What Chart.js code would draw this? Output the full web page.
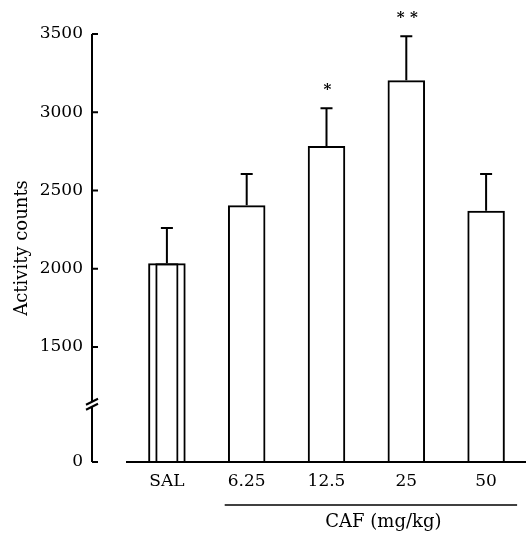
<!DOCTYPE html>
<html>
<head>
<meta charset="utf-8">
<script src="https://cdn.jsdelivr.net/npm/chart.js@4"></script>
<style>
  html, body { margin: 0; padding: 0; background: #fff; }
  #wrap { position: relative; width: 526px; height: 533px; }
</style>
</head>
<body>
<div id="wrap"><canvas id="chart"></canvas></div>
<script>
// data
const categories = ['SAL', '6.25', '12.5', '25', '50'];
const meanCounts = [2035, 2405, 2785, 3205, 2370];
const errorTops = [2260, 2605, 3025, 3485, 2605];
const significance = ['', '', '*', '**', ''];
const yTicks = [1500, 2000, 2500, 3000, 3500];
const groupLabel = 'CAF (mg/kg)';

// axis is broken between 0 and 1500; the "0" sits at this axis value
const BREAK_ZERO = 765;
const Y_MAX = 3500;

const FONT = '"DejaVu Serif", "Liberation Serif", serif';
const AXIS_X = 92;

const extrasPlugin = {
    id: 'extras',
    afterDatasetsDraw(chart) {
        const { ctx, scales: { x, y } } = chart;
        ctx.save();
        ctx.strokeStyle = '#000';
        ctx.fillStyle = '#000';
        ctx.lineWidth = 2;

        // error bars (upper only)
        errorTops.forEach((top, i) => {
            const cx = x.getPixelForValue(i);
            const y0 = y.getPixelForValue(meanCounts[i]);
            const y1 = y.getPixelForValue(top);
            ctx.beginPath();
            ctx.moveTo(cx, y0);
            ctx.lineTo(cx, y1);
            ctx.moveTo(cx - 6, y1);
            ctx.lineTo(cx + 6, y1);
            ctx.stroke();
        });

        // significance stars
        ctx.font = 'bold 15px ' + FONT;
        ctx.textAlign = 'center';
        ctx.textBaseline = 'middle';
        significance.forEach((s, i) => {
            if (!s) return;
            const cx = x.getPixelForValue(i) + 1;
            ctx.fillText(s.split('').join(' '), cx, y.getPixelForValue(errorTops[i]) - 18);
        });

        // detached y axis line with inward ticks
        const top = y.getPixelForValue(Y_MAX);
        const bottom = y.getPixelForValue(BREAK_ZERO);
        ctx.beginPath();
        ctx.moveTo(AXIS_X, top);
        ctx.lineTo(AXIS_X, bottom);
        [BREAK_ZERO, ...yTicks].forEach(v => {
            const py = y.getPixelForValue(v);
            ctx.moveTo(AXIS_X, py);
            ctx.lineTo(AXIS_X + 6, py);
        });
        ctx.stroke();

        // break marks
        const by = y.getPixelForValue(1150);
        ctx.fillStyle = '#fff';
        ctx.beginPath();
        ctx.moveTo(AXIS_X - 6, by + 3);
        ctx.lineTo(AXIS_X + 6, by - 3);
        ctx.lineTo(AXIS_X + 6, by + 2);
        ctx.lineTo(AXIS_X - 6, by + 8);
        ctx.closePath();
        ctx.fill();
        ctx.beginPath();
        ctx.moveTo(AXIS_X - 6, by + 3);
        ctx.lineTo(AXIS_X + 6, by - 3);
        ctx.moveTo(AXIS_X - 6, by + 8);
        ctx.lineTo(AXIS_X + 6, by + 2);
        ctx.stroke();

        // group line and label under the CAF doses
        const gx0 = x.getPixelForValue(1) - 22;
        const gx1 = x.getPixelForValue(4) + 31;
        const gy = 505;
        ctx.lineWidth = 1.5;
        ctx.beginPath();
        ctx.moveTo(gx0, gy);
        ctx.lineTo(gx1, gy);
        ctx.stroke();
        ctx.fillStyle = '#000';
        ctx.font = '18px ' + FONT;
        ctx.textBaseline = 'middle';
        ctx.fillText(groupLabel, (x.getPixelForValue(2) + x.getPixelForValue(3)) / 2 + 17, 522);

        ctx.restore();
    }
};

new Chart(document.getElementById('chart'), {
    type: 'bar',
    data: {
        labels: categories,
        datasets: [
            {
                data: meanCounts,
                backgroundColor: 'rgba(0,0,0,0)',
                borderColor: '#000',
                borderWidth: 2,
                borderSkipped: 'bottom',
                barPercentage: 0.47,
                categoryPercentage: 1,
                grouped: false
            },
            {
                // the saline bar is printed doubled in the original
                data: [meanCounts[0], null, null, null, null],
                backgroundColor: 'rgba(0,0,0,0)',
                borderColor: '#000',
                borderWidth: 2,
                borderSkipped: 'bottom',
                barPercentage: 0.29,
                categoryPercentage: 1,
                grouped: false
            }
        ]
    },
    options: {
        responsive: true,
        maintainAspectRatio: false,
        animation: false,
        layout: { padding: { top: 34, right: -4, left: 0, bottom: 0 } },
        plugins: {
            legend: { display: false },
            tooltip: { enabled: false }
        },
        scales: {
            x: {
                grid: { display: false, drawTicks: false },
                border: { display: true, color: '#000', width: 2 },
                ticks: {
                    color: '#000',
                    padding: 9,
                    maxRotation: 0,
                    font: { family: FONT, size: 17 }
                },
                afterFit(scale) { scale.height = 71; }
            },
            y: {
                min: BREAK_ZERO,
                max: Y_MAX,
                // tick marks are hidden; their length only pushes the labels left
                grid: { display: false, drawTicks: true, tickLength: 40 },
                border: { display: false },
                afterBuildTicks(scale) {
                    scale.ticks = [BREAK_ZERO, ...yTicks].map(v => ({ value: v }));
                },
                ticks: {
                    color: '#000',
                    padding: 4,
                    font: { family: FONT, size: 17 },
                    callback: v => (v === BREAK_ZERO ? '0' : String(v))
                },
                title: {
                    display: true,
                    text: 'Activity counts',
                    color: '#000',
                    padding: { top: 12, bottom: 0 },
                    font: { family: FONT, size: 18 }
                },
                afterFit(scale) { scale.width = 127; }
            }
        }
    },
    plugins: [extrasPlugin]
});
</script>
</body>
</html>
